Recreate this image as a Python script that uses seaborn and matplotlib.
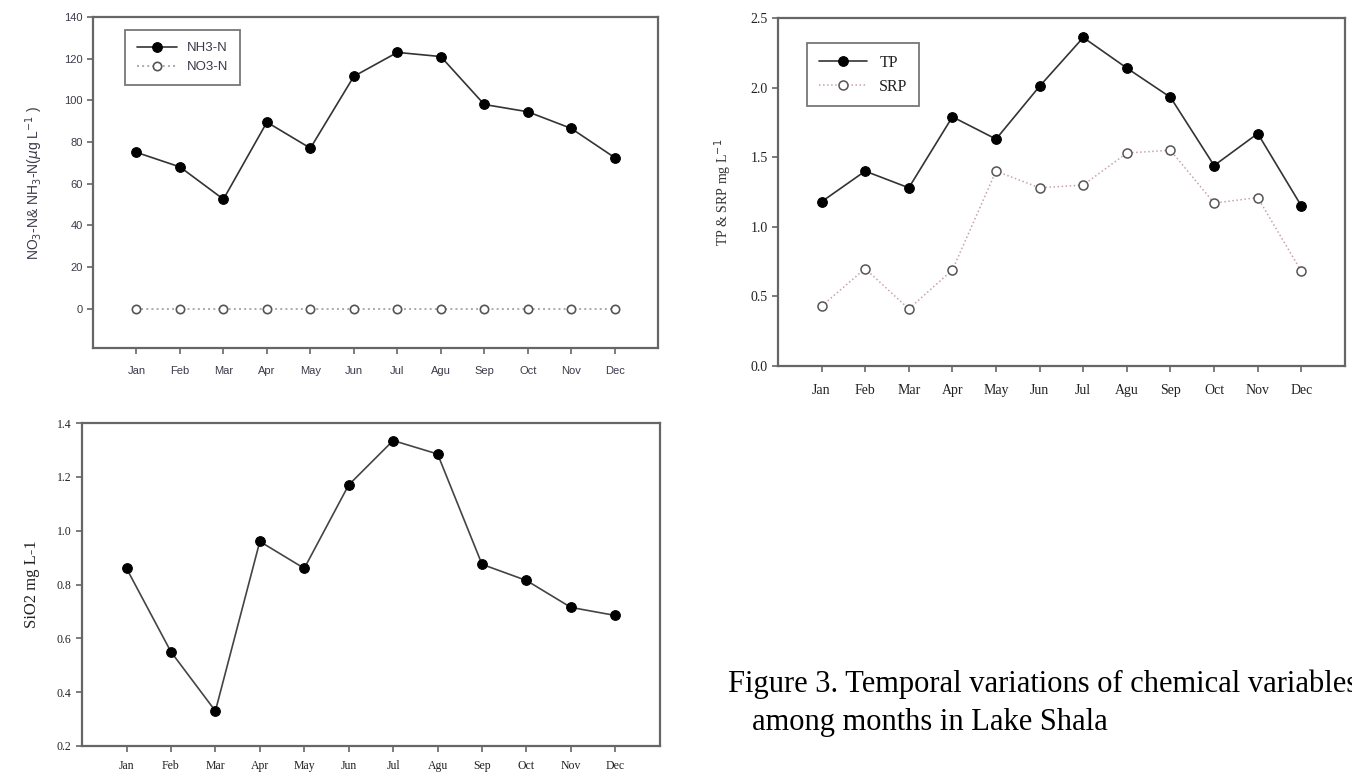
import numpy as np
import pandas as pd
import matplotlib
matplotlib.use("Agg")
import matplotlib.pyplot as plt
import seaborn as sns

months = ["Jan", "Feb", "Mar", "Apr", "May", "Jun", "Jul", "Agu", "Sep", "Oct", "Nov", "Dec"]
nh3_n = [75, 68, 52.5, 89.5, 77, 111.5, 123, 121, 98, 94.5, 86.5, 72.5]
no3_n = [0, 0, 0, 0, 0, 0, 0, 0, 0, 0, 0, 0]
tp = [1.18, 1.40, 1.28, 1.79, 1.63, 2.01, 2.36, 2.14, 1.93, 1.44, 1.67, 1.15]
srp = [0.43, 0.70, 0.41, 0.69, 1.40, 1.28, 1.30, 1.53, 1.55, 1.17, 1.21, 0.68]
sio2 = [0.86, 0.55, 0.33, 0.96, 0.86, 1.17, 1.335, 1.285, 0.875, 0.815, 0.715, 0.685]

sns.set_style("ticks")
plt.rcParams["axes.linewidth"] = 1.6
plt.rcParams["axes.edgecolor"] = "#666666"

x = np.arange(len(months))
fig = plt.figure(figsize=(13.52, 7.72), dpi=100)

def style_axes(ax, family, size, color):
    ax.set_xlim(-1, 12)
    ax.set_xticks(x)
    ax.set_xticklabels(months)
    ax.tick_params(direction="out", length=4, width=1.2, colors="#666666",
                   labelcolor=color, labelsize=size)
    for lab in ax.get_xticklabels() + ax.get_yticklabels():
        lab.set_family(family)
    ax.tick_params(axis="x", pad=9)
    ax.set_xlabel("")
    for s in ax.spines.values():
        s.set_visible(True)

# panel 1: nitrogen
ax1 = fig.add_axes([0.0688, 0.549, 0.418, 0.429])
d1 = pd.DataFrame({"x": x, "NH3-N": nh3_n, "NO3-N": no3_n})
sns.lineplot(data=d1, x="x", y="NH3-N", ax=ax1, color="#333333", lw=1.2,
             marker="o", markersize=7, markerfacecolor="black", markeredgecolor="black",
             label="NH3-N")
sns.lineplot(data=d1, x="x", y="NO3-N", ax=ax1, color="#aaaaaa", lw=1.4, linestyle=":",
             marker="o", markersize=6, markerfacecolor="white", markeredgecolor="#555555",
             markeredgewidth=1.2, label="NO3-N")
ax1.set_ylim(-19, 140)
ax1.set_yticks(range(0, 141, 20))
style_axes(ax1, "Liberation Sans", 8, "#3a3a4a")
ax1.set_ylabel(r"NO$_3$-N& NH$_3$-N($\mu$g L$^{-1}$ )", family="Liberation Sans",
               fontsize=10, color="#3a3a4a", labelpad=14)
leg1 = ax1.legend(loc="upper left", bbox_to_anchor=(0.045, 0.98), fancybox=False,
                  edgecolor="#555555", prop={"family": "Liberation Sans", "size": 9.5},
                  handlelength=3, borderpad=0.9, labelcolor="#3a3a4a")
leg1.get_frame().set_linewidth(1.3)

# panel 2: phosphorus
ax2 = fig.add_axes([0.5754, 0.5259, 0.4194, 0.4508])
d2 = pd.DataFrame({"x": x, "TP": tp, "SRP": srp})
sns.lineplot(data=d2, x="x", y="TP", ax=ax2, color="#333333", lw=1.2,
             marker="o", markersize=7, markerfacecolor="black", markeredgecolor="black",
             label="TP")
sns.lineplot(data=d2, x="x", y="SRP", ax=ax2, color="#c9a0b0", lw=1.1, linestyle=":",
             marker="o", markersize=6.5, markerfacecolor="white", markeredgecolor="#555555",
             markeredgewidth=1.1, label="SRP")
ax2.set_ylim(0, 2.5)
ax2.set_yticks(np.arange(0, 2.51, 0.5))
ax2.set_yticklabels([f"{v:.1f}" for v in np.arange(0, 2.51, 0.5)])
style_axes(ax2, "Liberation Serif", 10, "#222222")
ax2.set_ylabel(r"TP & SRP mg L$^{-1}$", family="Liberation Serif", fontsize=10,
               color="#333333", labelpad=12)
leg2 = ax2.legend(loc="upper left", bbox_to_anchor=(0.038, 0.95), fancybox=False,
                  edgecolor="#555555", prop={"family": "Liberation Serif", "size": 11.5},
                  handlelength=3, borderpad=0.7, labelcolor="#222222")
leg2.get_frame().set_linewidth(1.3)

# panel 3: silica
ax3 = fig.add_axes([0.0607, 0.0337, 0.4273, 0.4183])
d3 = pd.DataFrame({"x": x, "SiO2": sio2})
sns.lineplot(data=d3, x="x", y="SiO2", ax=ax3, color="#444444", lw=1.2,
             marker="o", markersize=7, markerfacecolor="black", markeredgecolor="black")
ax3.set_ylim(0.2, 1.4)
ax3.set_yticks(np.arange(0.2, 1.41, 0.2))
ax3.set_yticklabels([f"{v:.1f}" for v in np.arange(0.2, 1.41, 0.2)])
style_axes(ax3, "Liberation Serif", 8.5, "#222222")
ax3.tick_params(axis="x", pad=6)
ax3.set_ylabel("SiO2 mg L-1", family="Liberation Serif", fontsize=12,
               color="#222222", labelpad=12)

# figure caption
fig.text(0.5385, 0.1036, "Figure 3. Temporal variations of chemical variables",
         family="Liberation Serif", fontsize=22, color="black", va="baseline")
fig.text(0.5562, 0.0544, "among months in Lake Shala",
         family="Liberation Serif", fontsize=22, color="black", va="baseline")

fig.savefig("out.png", dpi=100)
